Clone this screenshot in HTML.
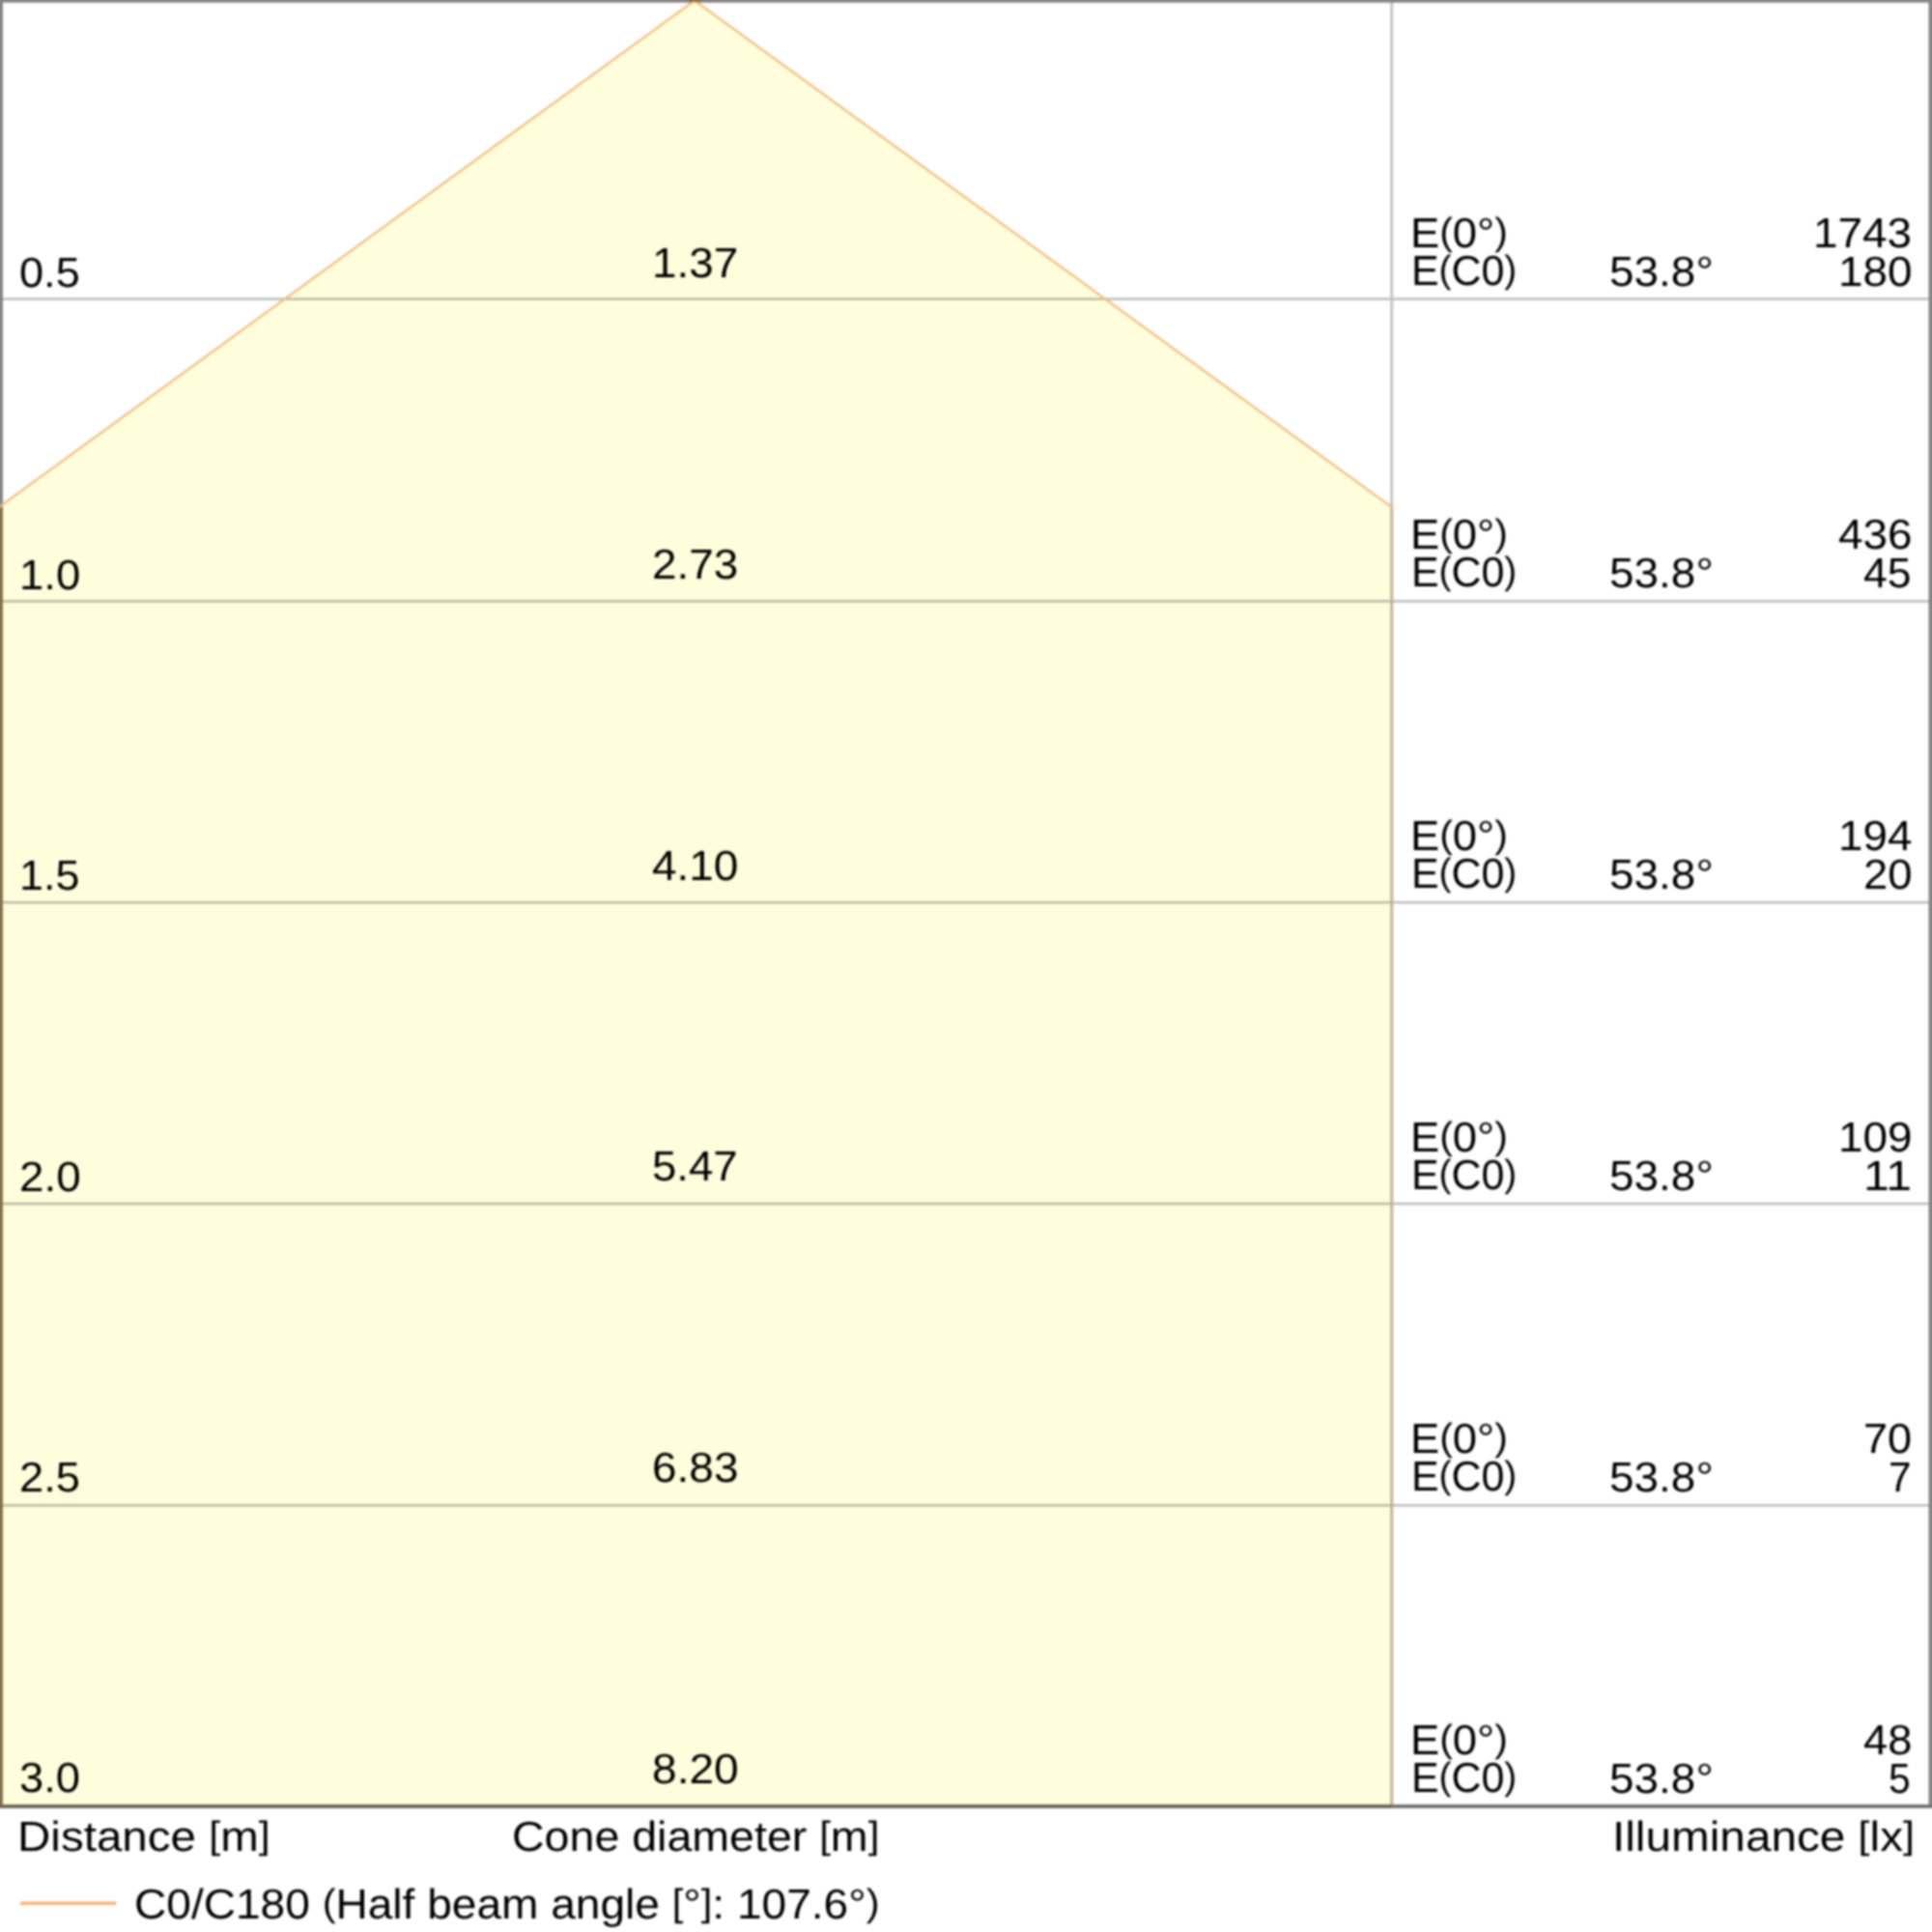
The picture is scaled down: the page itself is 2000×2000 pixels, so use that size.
<!DOCTYPE html>
<html lang="en">
<head>
<meta charset="utf-8">
<title>Cone diagram</title>
<style>
html,body{margin:0;padding:0;background:#fff;}
body{width:2000px;height:2000px;position:relative;overflow:hidden;font-family:"Liberation Sans",sans-serif;color:#000000;}
#sheet{position:absolute;left:-20px;top:-20px;width:2040px;height:2040px;filter:blur(0.9px);}
#g{position:absolute;left:0;top:0;width:2040px;height:2040px;}
#txt{position:absolute;left:20px;top:20px;width:2000px;height:2000px;}
.t{position:absolute;white-space:nowrap;line-height:50px;height:50px;transform-origin:0 0;text-rendering:geometricPrecision;font-size:43.5px;}
.p{font-size:0.902em;position:relative;top:-2.7px;}
</style>
</head>
<body>
<div id="sheet">
<svg id="g" width="2040" height="2040" viewBox="-20 -20 2040 2040">
<rect x="-20" y="-20" width="2040" height="2040" fill="#ffffff"/>
<polygon points="719,0.6 -20,538.8 -20,1870 1440,1870 1440,524.6" fill="#fefddc"/>
<g fill="#000000" fill-opacity="0.25">
<rect x="-20" y="308.2" width="2040" height="2.6"/>
<rect x="-20" y="621.1" width="2040" height="2.6"/>
<rect x="-20" y="932.9" width="2040" height="2.6"/>
<rect x="-20" y="1244.8" width="2040" height="2.6"/>
<rect x="-20" y="1557" width="2040" height="2.6"/>
</g>
<rect x="1439.2" y="-20" width="3" height="545" fill="#c5c5c5"/>
<rect x="1439.2" y="525" width="3" height="1345" fill="#c4b09c"/>
<rect x="-20" y="-20" width="23" height="545" fill="#858585"/>
<rect x="-20" y="525" width="23" height="1346" fill="#83734f"/>
<rect x="-20" y="-20" width="2040" height="22.7" fill="#858585"/>
<rect x="1996.5" y="-20" width="24" height="1891" fill="#858585"/>
<rect x="-20" y="1868" width="1461" height="3.8" fill="#6a6454"/>
<rect x="1441" y="1868" width="580" height="3.8" fill="#707070"/>
<polyline points="-20,538.8 719,0.6 1441,525.2" fill="none" stroke="#f4bd7e" stroke-width="2.2"/>
<polygon points="711,-1 727,-1 723,2.4 719,1.2 715,2.4" fill="#8a6a40"/>
<rect x="20.8" y="1968.6" width="99.4" height="3.4" fill="#f5b577"/>
</svg>
<div id="txt">
<span class="t" id="d0" style="left:19.82px;top:258.00px;transform:scaleX(1.0379);">0.5</span>
<span class="t" id="c0" style="left:674.91px;top:248.00px;transform:scaleX(1.0544);">1.37</span>
<span class="t" id="ea0" style="left:1460.35px;top:217.00px;transform:scaleX(1.0424);">E<span class="p">(</span>0°<span class="p">)</span></span>
<span class="t" id="eb0" style="left:1460.55px;top:256.00px;transform:scaleX(0.9862);">E<span class="p">(</span>C0<span class="p">)</span></span>
<span class="t" id="an0" style="left:1666.00px;top:257.00px;transform:scaleX(1.0558);">53.8°</span>
<span class="t" id="va0" style="left:1876.63px;top:217.00px;transform:scaleX(1.0557);">1743</span>
<span class="t" id="vb0" style="left:1902.80px;top:257.00px;transform:scaleX(1.0533);">180</span>
<span class="t" id="d1" style="left:20.10px;top:571.00px;transform:scaleX(1.0450);">1.0</span>
<span class="t" id="c1" style="left:674.73px;top:560.00px;transform:scaleX(1.0559);">2.73</span>
<span class="t" id="ea1" style="left:1460.35px;top:529.00px;transform:scaleX(1.0424);">E<span class="p">(</span>0°<span class="p">)</span></span>
<span class="t" id="eb1" style="left:1460.55px;top:568.00px;transform:scaleX(0.9862);">E<span class="p">(</span>C0<span class="p">)</span></span>
<span class="t" id="an1" style="left:1666.00px;top:569.00px;transform:scaleX(1.0558);">53.8°</span>
<span class="t" id="va1" style="left:1902.67px;top:529.00px;transform:scaleX(1.0566);">436</span>
<span class="t" id="vb1" style="left:1928.89px;top:569.00px;transform:scaleX(1.0242);">45</span>
<span class="t" id="d2" style="left:20.14px;top:882.00px;transform:scaleX(1.0335);">1.5</span>
<span class="t" id="c2" style="left:675.05px;top:872.00px;transform:scaleX(1.0561);">4.10</span>
<span class="t" id="ea2" style="left:1460.35px;top:841.00px;transform:scaleX(1.0424);">E<span class="p">(</span>0°<span class="p">)</span></span>
<span class="t" id="eb2" style="left:1460.55px;top:880.00px;transform:scaleX(0.9862);">E<span class="p">(</span>C0<span class="p">)</span></span>
<span class="t" id="an2" style="left:1666.00px;top:881.00px;transform:scaleX(1.0558);">53.8°</span>
<span class="t" id="va2" style="left:1902.81px;top:841.00px;transform:scaleX(1.0515);">194</span>
<span class="t" id="vb2" style="left:1928.56px;top:881.00px;transform:scaleX(1.0449);">20</span>
<span class="t" id="d3" style="left:19.63px;top:1194.00px;transform:scaleX(1.0531);">2.0</span>
<span class="t" id="c3" style="left:675.42px;top:1183.00px;transform:scaleX(1.0477);">5.47</span>
<span class="t" id="ea3" style="left:1460.35px;top:1153.00px;transform:scaleX(1.0424);">E<span class="p">(</span>0°<span class="p">)</span></span>
<span class="t" id="eb3" style="left:1460.55px;top:1192.00px;transform:scaleX(0.9862);">E<span class="p">(</span>C0<span class="p">)</span></span>
<span class="t" id="an3" style="left:1666.00px;top:1193.00px;transform:scaleX(1.0558);">53.8°</span>
<span class="t" id="va3" style="left:1902.80px;top:1153.00px;transform:scaleX(1.0543);">109</span>
<span class="t" id="vb3" style="left:1928.55px;top:1193.00px;transform:scaleX(1.1044);">11</span>
<span class="t" id="d4" style="left:19.66px;top:1505.00px;transform:scaleX(1.0418);">2.5</span>
<span class="t" id="c4" style="left:674.53px;top:1495.00px;transform:scaleX(1.0571);">6.83</span>
<span class="t" id="ea4" style="left:1460.35px;top:1465.00px;transform:scaleX(1.0424);">E<span class="p">(</span>0°<span class="p">)</span></span>
<span class="t" id="eb4" style="left:1460.55px;top:1504.00px;transform:scaleX(0.9862);">E<span class="p">(</span>C0<span class="p">)</span></span>
<span class="t" id="an4" style="left:1666.00px;top:1505.00px;transform:scaleX(1.0558);">53.8°</span>
<span class="t" id="va4" style="left:1928.87px;top:1465.00px;transform:scaleX(1.0360);">70</span>
<span class="t" id="vb4" style="left:1955.17px;top:1505.00px;transform:scaleX(0.9722);">7</span>
<span class="t" id="d5" style="left:20.37px;top:1816.00px;transform:scaleX(1.0421);">3.0</span>
<span class="t" id="c5" style="left:674.85px;top:1807.00px;transform:scaleX(1.0593);">8.20</span>
<span class="t" id="ea5" style="left:1460.35px;top:1777.00px;transform:scaleX(1.0424);">E<span class="p">(</span>0°<span class="p">)</span></span>
<span class="t" id="eb5" style="left:1460.55px;top:1816.00px;transform:scaleX(0.9862);">E<span class="p">(</span>C0<span class="p">)</span></span>
<span class="t" id="an5" style="left:1666.00px;top:1817.00px;transform:scaleX(1.0558);">53.8°</span>
<span class="t" id="va5" style="left:1928.87px;top:1777.00px;transform:scaleX(1.0418);">48</span>
<span class="t" id="vb5" style="left:1955.33px;top:1817.00px;transform:scaleX(0.9415);">5</span>
<span class="t" id="lx" style="left:17.60px;top:1877.00px;transform:scaleX(1.0931);">Distance <span class="p">[</span>m<span class="p">]</span></span>
<span class="t" id="lc" style="left:529.94px;top:1877.00px;transform:scaleX(1.0699);">Cone diameter <span class="p">[</span>m<span class="p">]</span></span>
<span class="t" id="li" style="left:1668.74px;top:1877.00px;transform:scaleX(1.0969);">Illuminance <span class="p">[</span>lx<span class="p">]</span></span>
<span class="t" id="lg" style="left:138.75px;top:1947.00px;transform:scaleX(1.0591);">C0/C180 <span class="p">(</span>Half beam angle <span class="p">[</span>°<span class="p">]</span>: 107.6°<span class="p">)</span></span>
</div>
</div>
</body>
</html>
